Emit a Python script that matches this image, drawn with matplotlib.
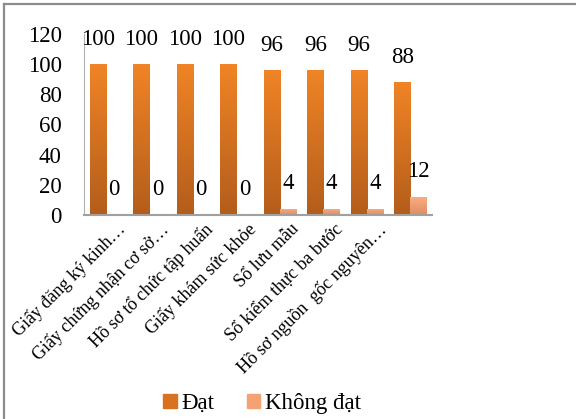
import numpy as np
import matplotlib
matplotlib.use("Agg")
import matplotlib.pyplot as plt
from matplotlib.colors import LinearSegmentedColormap
from matplotlib.lines import Line2D

# 8 groups of bars; the chart only shows labels for the first 7 ticks
categories = [
    "Giấy đăng ký kinh…",
    "Giấy chứng nhận cơ sở…",
    "Hồ sơ tổ chức tập huấn",
    "Giấy khám sức khỏe",
    "Sổ lưu mẫu",
    "Sổ kiểm thực ba bước",
    "Hồ sơ nguồn  gốc nguyên…",
    "",
]
dat = [100, 100, 100, 100, 96, 96, 96, 88]
khong_dat = [0, 0, 0, 0, 4, 4, 4, 12]

plt.rcParams["font.family"] = ["Liberation Serif", "DejaVu Serif"]

DAT_CMAP = LinearSegmentedColormap.from_list("dat", ["#B35D1B", "#F08426"])
KD_CMAP = LinearSegmentedColormap.from_list("kd", ["#DE8D63", "#FBAF82"])


def gradient_bars(ax, bars, cmap):
    grad = np.linspace(0, 1, 256).reshape(-1, 1)
    for b in bars:
        h = b.get_height()
        if h > 0:
            x0, w = b.get_x(), b.get_width()
            im = ax.imshow(grad, cmap=cmap, origin="lower", aspect="auto",
                           extent=(x0, x0 + w, 0, h), zorder=b.get_zorder())
            im.set_clip_path(b)
        b.set_facecolor("none")


fig = plt.figure(figsize=(5.76, 4.19), dpi=100)
# frame: only top and left edges visible in the original
fig.add_artist(Line2D([3.5 / 576, 3.5 / 576], [0, 1 - 4.5 / 419],
                      color="#8c8c8c", lw=1.6, transform=fig.transFigure))
fig.add_artist(Line2D([3.5 / 576, 1], [1 - 4.5 / 419, 1 - 4.5 / 419],
                      color="#8c8c8c", lw=1.6, transform=fig.transFigure))
ax = fig.add_axes([0.146, 0.487, 0.604, 0.432])

x = np.arange(len(dat))
w = 0.37
b1 = ax.bar(x - w / 2, dat, w, label="Đạt", zorder=2)
b2 = ax.bar(x + w / 2, khong_dat, w, label="Không đạt", zorder=2)
gradient_bars(ax, b1, DAT_CMAP)
gradient_bars(ax, b2, KD_CMAP)

for bars, vals in ((b1, dat), (b2, khong_dat)):
    for b, v in zip(bars, vals):
        ax.annotate(f"{v}", (b.get_x() + b.get_width() / 2, v),
                    xytext=(0, 18), textcoords="offset points",
                    ha="center", va="center", fontsize=16.5)

ax.set_xlim(-0.5, len(dat) - 0.5)
ax.set_ylim(0, 120)
ax.set_yticks(range(0, 121, 20))
ax.tick_params(axis="y", length=0, labelsize=16.5, pad=16)
ax.tick_params(axis="x", length=0, pad=4)
ax.set_xticks(x + 0.25)
ax.set_xticklabels(categories, rotation=45, ha="right",
                   rotation_mode="anchor", fontsize=13)
for s in ("top", "right"):
    ax.spines[s].set_visible(False)
ax.spines["left"].set_color("#b0b0b0")
ax.spines["bottom"].set_color("#a0a0a0")
ax.spines["bottom"].set_linewidth(1.5)

handles = [plt.Rectangle((0, 0), 1, 1, color="#D9721F"),
           plt.Rectangle((0, 0), 1, 1, color="#F4A273")]
fig.legend(handles, ["Đạt", "Không đạt"], loc="center",
           bbox_to_anchor=(0.455, 0.037), ncol=2, frameon=False, fontsize=16.5,
           handlelength=0.6, handleheight=0.6, handletextpad=0.2,
           columnspacing=1.4)

fig.savefig("out.png", dpi=100)
